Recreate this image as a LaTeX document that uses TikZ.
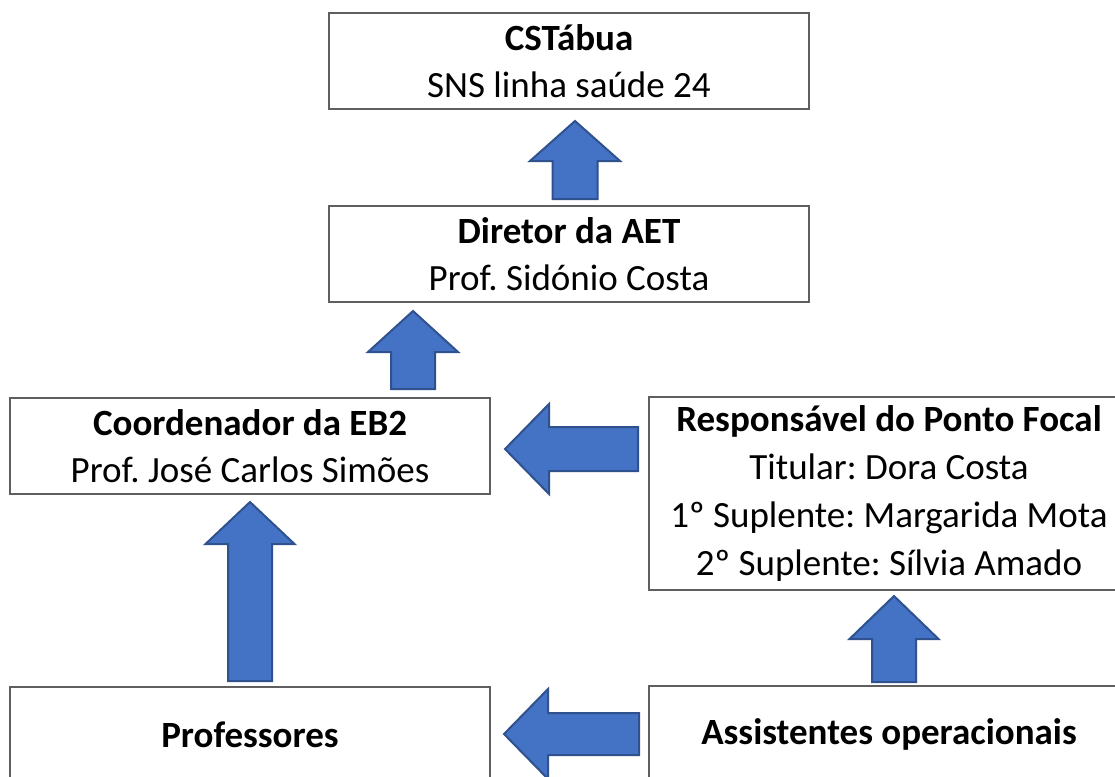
\documentclass[tikz,border=0pt]{standalone}
\usepackage{fontspec}
\setmainfont{Carlito}
\frenchspacing
\definecolor{arrfill}{HTML}{4472C4}
\definecolor{arrdraw}{HTML}{2F528F}
\definecolor{boxdraw}{HTML}{5F5F5F}
\newcommand\blkup[6]{% cx, tipy, headbase y, head half width, shaft half width, bottom y
  \draw[blockarr] (#1,#2) -- ({#1+#4},#3) -- ({#1+#5},#3) -- ({#1+#5},#6) -- ({#1-#5},#6) -- ({#1-#5},#3) -- ({#1-#4},#3) -- cycle;}
\newcommand\blkleft[6]{% tipx, cy, headbase x, head half height, shaft half height, right x
  \draw[blockarr] (#1,#2) -- (#3,{#2-#4}) -- (#3,{#2-#5}) -- (#6,{#2-#5}) -- (#6,{#2+#5}) -- (#3,{#2+#5}) -- (#3,{#2+#4}) -- cycle;}
\tikzset{
  orgbox/.style={draw=boxdraw, line width=1.3pt, fill=white, align=center, inner sep=0pt,
    minimum width=480pt, font=\fontsize{37}{47.5}\selectfont\frenchspacing},
  blockarr/.style={fill=arrfill, draw=arrdraw, line width=2pt, line join=miter},
}
\begin{document}
\begin{tikzpicture}[x=1pt,y=-1pt]
\useasboundingbox (0,0) rectangle (1115,776);
\clip (0,0) rectangle (1115,776);
\fill[white] (0,0) rectangle (1115,776);
\node[orgbox, minimum height=96pt] (cst) at (569,61) {\textbf{CSTábua}\\SNS linha saúde 24};
\node[orgbox, minimum height=96pt] (dir) at (569,254) {\textbf{Diretor da AET}\\Prof. Sidónio Costa};
\node[orgbox, minimum height=96pt] (coord) at (250,446) {\textbf{Coordenador da EB2}\\Prof. José Carlos Simões};
\node[orgbox, minimum height=193pt, font=\fontsize{37}{48.3}\selectfont\frenchspacing] (resp) at (889,493.5) {\textbf{Responsável do Ponto Focal}\\Titular: Dora Costa\\1º Suplente: Margarida Mota\\2º Suplente: Sílvia Amado};
\node[orgbox, minimum height=96pt] (prof) at (250,735) {\textbf{Professores}};
\node[orgbox, minimum height=96pt] (assist) at (889,734) {\textbf{Assistentes operacionais}};
% block arrows
\blkup{575}{121}{161}{45}{22.5}{199}
\blkup{413}{311}{352}{45}{22}{389}
\blkup{250}{502}{544}{44.5}{22}{681}
\blkup{894}{596}{639}{44.5}{22}{682}
\blkleft{505}{449}{549}{45}{22}{638}
\blkleft{504}{734}{548}{45}{21}{639}
\end{tikzpicture}
\end{document}
